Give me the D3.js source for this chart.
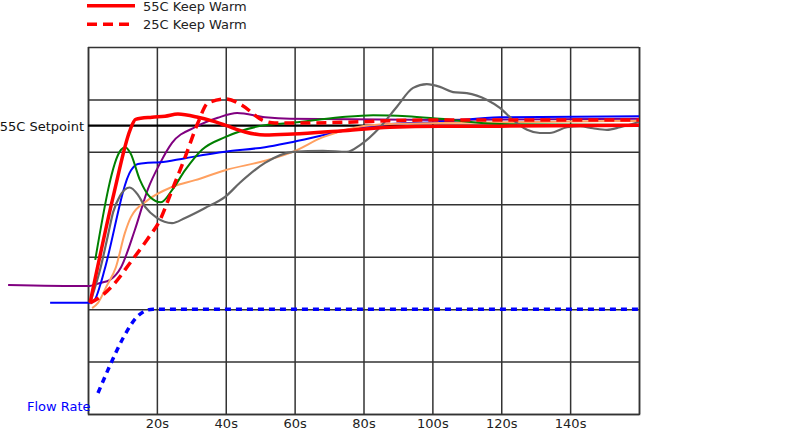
<!DOCTYPE html>
<html><head><meta charset="utf-8">
<script src="https://cdn.jsdelivr.net/npm/d3@7"></script>
<style>html,body{margin:0;padding:0;background:#fff;}svg{display:block;font-family:"DejaVu Sans",Verdana,sans-serif;}</style>
</head><body>
<svg id="c" width="800" height="430"></svg>
<script>
// time in seconds, temperature in °C
const xTicks = [0,20,40,60,80,100,120,140,160];
const xTickLabels = ["","20s","40s","60s","80s","100s","120s","140s",""];
const yTicks = [0,10,20,30,40,50,60,70];
const setpoint = 55;
const setpointLabel = "55C Setpoint";
const flowLabel = "Flow Rate";
const legendLabels = ["55C Keep Warm","25C Keep Warm"];

const purple = [[-23.2,24.6],[0,24.4],[3.5,25.0],[6.4,25.6],[9.6,28.0],[13.6,35.1],[17.4,42.9],[20.9,47.8],[24.4,51.7],[31.1,54.7],[37.7,56.5],[43.3,57.4],[51.4,56.6],[58.7,56.3],[102.2,56.1],[160,56.3]];
const blue = [[-11.0,21.2],[0.6,21.2],[1.8,21.6],[3.5,24.5],[4.8,27.5],[12.5,46.5],[14.5,47.7],[17.4,47.9],[20.9,48.0],[28.2,48.8],[39.8,50.0],[51.4,50.9],[59.5,51.9],[79.8,54.7],[87.7,55.3],[102.2,55.7],[119.6,56.6],[160,56.8]];
const orange = [[1.2,20.2],[2.9,21.2],[5.5,24.5],[8.1,28.0],[10.7,34.5],[12.5,37.6],[17.4,40.8],[24.4,43.3],[31.1,44.6],[39.8,46.5],[51.4,48.3],[59.5,50.0],[68.2,52.8],[78.1,54.7],[87.7,55.3],[102.2,55.5],[160,55.9]];
const gray = [[0.6,21.2],[3.5,27.5],[5.8,34.1],[7.3,38.5],[9.3,41.6],[12.1,43.2],[14.5,41.8],[16.6,39.5],[20.0,37.4],[24.4,36.4],[28.2,37.4],[34.0,39.3],[39.8,41.4],[44.1,44.1],[51.4,47.9],[59.5,50.0],[68.2,50.2],[75.2,50.0],[79.0,51.3],[84.8,54.7],[89.7,58.6],[94.4,62.2],[98.4,62.9],[102.2,62.4],[106.0,61.4],[110.0,61.2],[115.9,59.9],[119.6,58.4],[123.4,56.1],[127.5,54.2],[131.2,53.6],[134.1,53.6],[139.1,54.7],[142.9,54.9],[146.6,54.5],[150.7,54.2],[154.5,54.7],[160,55.7]];
const green = [[2.1,29.4],[9.6,50.4],[10.8,50.9],[12.3,49.8],[15.1,44.6],[18.0,41.4],[21.2,40.4],[24.4,42.7],[28.2,46.5],[33.1,50.4],[39.8,52.8],[51.4,55.1],[58.7,55.5],[73.2,56.6],[82.8,57.0],[92.6,56.8],[102.2,56.3],[119.6,55.3],[160,55.1]];
const redSolid = [[0.6,21.2],[7.5,42.0],[12.3,54.3],[13.8,56.2],[18.6,56.6],[22.4,56.8],[26.1,57.2],[31.9,56.6],[36.0,55.9],[39.8,55.1],[45.6,53.8],[51.4,53.2],[59.5,53.4],[73.2,54.0],[87.7,54.7],[102.2,54.9],[119.6,54.9],[160,55.1]];
const redDashed = [[0.6,21.2],[3.5,22.3],[7.3,24.6],[12.2,28.8],[17.1,33.2],[20.9,37.0],[24.4,42.7],[28.2,49.0],[31.9,55.5],[34.8,59.3],[40.1,60.1],[44.7,58.9],[50.5,56.1],[54.3,55.5],[61.6,55.5],[102.2,56.1],[160,56.1]];
const flowRate = [[2.9,4.0],[6.4,9.3],[10.2,14.5],[14.2,18.5],[17.1,19.8],[18.9,20.0],[160,20.0]];

const svg = d3.select("#c");
const L=88, R=639, T=47, B=414;
const x = d3.scaleLinear().domain([0,160]).range([L,R]);
const y = d3.scaleLinear().domain([0,70]).range([B,T]);

// grid
const gx = svg.append("g").attr("transform",`translate(0,${B})`)
  .call(d3.axisBottom(x).tickValues(xTicks).tickSize(-(B-T)).tickFormat((d,i)=>xTickLabels[i]).tickPadding(5));
gx.select(".domain").attr("stroke","#333").attr("stroke-width",1.5);
gx.selectAll(".tick line").attr("stroke","#333").attr("stroke-width",1.5);
gx.selectAll(".tick text").attr("font-size",13).attr("fill","#222").attr("font-family","DejaVu Sans");
const gy = svg.append("g").attr("transform",`translate(${L},0)`)
  .call(d3.axisLeft(y).tickValues(yTicks).tickSize(-(R-L)).tickFormat(""));
gy.select(".domain").remove();
gy.selectAll(".tick line").attr("stroke","#333").attr("stroke-width",1.5);

// setpoint
svg.append("line").attr("x1",x(0)).attr("x2",x(160)).attr("y1",y(setpoint)).attr("y2",y(setpoint))
  .attr("stroke","#000").attr("stroke-width",2.2);
svg.append("text").attr("x",x(0)-4).attr("y",y(setpoint)+5).attr("text-anchor","end")
  .attr("font-size",13).attr("fill","#111").text(setpointLabel);

const line = d3.line().x(d=>x(d[0])).y(d=>y(d[1])).curve(d3.curveMonotoneX);
function draw(data,color,w,dash){
  const p = svg.append("path").datum(data).attr("d",line).attr("fill","none")
    .attr("stroke",color).attr("stroke-width",w).attr("stroke-linejoin","round");
  if(dash) p.attr("stroke-dasharray",dash);
}
draw(purple,"#800080",2);
draw(blue,"#0000ff",2);
draw(orange,"#ffa060",2);
draw(green,"#008000",2);
draw(gray,"#666666",2.2);
draw(redSolid,"#ff0000",3.5);
draw(redDashed,"#ff0000",3.5,"10,6");
draw(flowRate,"#0000ff",3.5,"6,5");

svg.append("text").attr("x",27).attr("y",411).attr("font-size",13).attr("fill","#0000ff").text(flowLabel);

// legend
const lg = svg.append("g");
legendLabels.forEach((t,i)=>{
  const yy = 5.7 + i*18.6;
  lg.append("line").attr("x1",87).attr("x2",135).attr("y1",yy).attr("y2",yy)
    .attr("stroke","#ff0000").attr("stroke-width",3.5).attr("stroke-dasharray", i? "10,6": null);
  lg.append("text").attr("x",143).attr("y",yy+5).attr("font-size",13).attr("fill","#222").text(t);
});
</script>
</body></html>
